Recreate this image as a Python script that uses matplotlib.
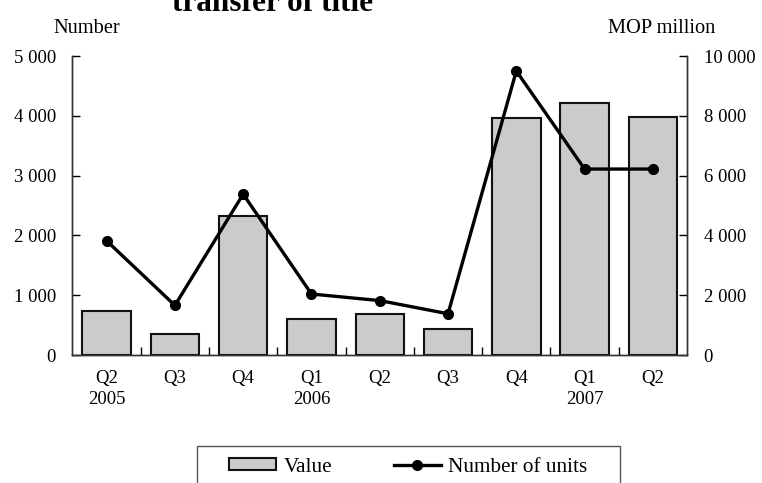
import matplotlib.pyplot as plt
from matplotlib.patches import Rectangle
from matplotlib.ticker import FuncFormatter

# Quarterly transfers: number of units and value (MOP million)
quarters = ["Q2", "Q3", "Q4", "Q1", "Q2", "Q3", "Q4", "Q1", "Q2"]
years = ["2005", "", "", "2006", "", "", "", "2007", ""]
value_mop = [1470, 700, 4660, 1190, 1370, 860, 7920, 8420, 7970]
units = [1910, 830, 2690, 1020, 910, 690, 4750, 3110, 3110]

plt.rcParams["font.family"] = ["Liberation Serif", "DejaVu Serif"]
plt.rcParams["font.size"] = 13.5

fig = plt.figure(figsize=(7.62, 4.83), dpi=100)
ax = fig.add_axes([0.0951, 0.265, 0.8065, 0.619])
ax2 = ax.twinx()

x = list(range(len(quarters)))
bars = ax2.bar(x, value_mop, width=0.71, color="#cbcbcb", edgecolor="#111111",
               linewidth=1.5, label="Value")
line, = ax.plot(x, units, color="black", linewidth=2.4, marker="o",
                markersize=7, label="Number of units")

# line sits above the bars
ax.set_zorder(ax2.get_zorder() + 1)
ax.patch.set_visible(False)

ax.set_xlim(-0.5, len(quarters) - 0.5)
ax.set_ylim(0, 5000)
ax2.set_ylim(0, 10000)
ax.set_yticks(range(0, 5001, 1000))
ax2.set_yticks(range(0, 10001, 2000))

fmt = FuncFormatter(lambda v, p: f"{int(v):,}".replace(",", " "))
ax.yaxis.set_major_formatter(fmt)
ax2.yaxis.set_major_formatter(fmt)

ax.set_xticks(x)
ax.set_xticklabels([q + "\n" + y if y else q for q, y in zip(quarters, years)],
                   va="top", linespacing=1.25)
ax.set_xticks([i + 0.5 for i in x[:-1]], minor=True)
ax.tick_params(axis="x", which="major", length=0, pad=11)
ax.tick_params(axis="x", which="minor", direction="in", length=6, width=1)
ax.tick_params(axis="y", direction="in", length=6, width=1, pad=12)
ax2.tick_params(axis="y", direction="in", length=6, width=1, pad=12)

for a in (ax, ax2):
    a.spines["top"].set_visible(False)
    for s in ("left", "right", "bottom"):
        a.spines[s].set_color("#333333")
        a.spines[s].set_linewidth(1)

fig.text(0.357, 0.977, "transfer of title", ha="center", va="baseline",
         fontsize=22.5, fontweight="bold")
fig.text(0.114, 0.942, "Number", ha="center", va="center", fontsize=14.7)
fig.text(0.868, 0.942, "MOP million", ha="center", va="center", fontsize=14.7)

# legend box, running off the bottom edge
fig.add_artist(Rectangle((0.2585, -0.05), 0.555, 0.127, transform=fig.transFigure,
                         facecolor="none", edgecolor="#555555", linewidth=1))
fig.legend([bars, line], ["Value", "Number of units"], ncol=2,
           loc="center", bbox_to_anchor=(0.536, 0.033), frameon=False,
           handlelength=2.2, handleheight=0.5, handletextpad=0.35,
           columnspacing=2.9, fontsize=15.3)

fig.savefig("out.png", dpi=100)
